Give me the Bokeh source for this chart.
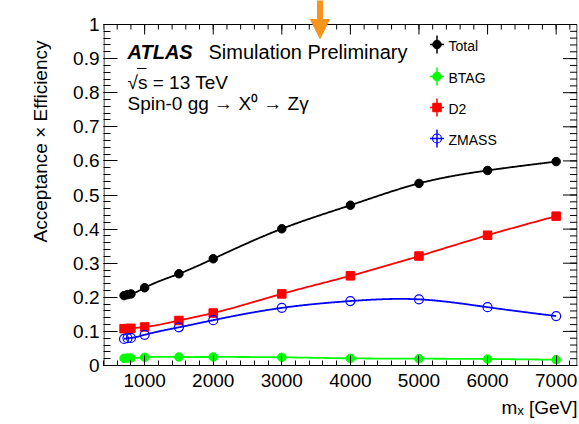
import numpy as np
from math import pi

from bokeh.plotting import figure
from bokeh.models import FixedTicker, Label, Arrow, NormalHead, Range1d, Title
from bokeh.embed import file_html
from bokeh.resources import INLINE

# Signal mass points [GeV] and acceptance x efficiency per selection stage
mass = [700, 750, 800, 1000, 1500, 2000, 3000, 4000, 5000, 6000, 7000]
eff_total = [0.205, 0.208, 0.210, 0.228, 0.269, 0.313, 0.401, 0.470, 0.534, 0.572, 0.598]
eff_btag = [0.021, 0.022, 0.022, 0.024, 0.025, 0.025, 0.024, 0.021, 0.020, 0.019, 0.017]
eff_d2 = [0.108, 0.108, 0.109, 0.113, 0.132, 0.154, 0.210, 0.263, 0.321, 0.382, 0.438]
eff_zmass = [0.078, 0.080, 0.081, 0.090, 0.112, 0.133, 0.169, 0.189, 0.194, 0.171, 0.145]

series_names = ["Total", "BTAG", "D2", "ZMASS"]
x_ticks = [1000, 2000, 3000, 4000, 5000, 6000, 7000]
x_minor = list(range(400, 7400, 200))
y_ticks = [0.0, 0.1, 0.2, 0.3, 0.4, 0.5, 0.6, 0.7, 0.8, 0.9, 1.0]
y_minor = [round(0.02 * i, 2) for i in range(51)]
y_tick_labels = ["0", "0.1", "0.2", "0.3", "0.4", "0.5", "0.6", "0.7", "0.8", "0.9", "1"]

W, H = 579, 424
LEFT, RIGHT, BOTTOM = 103, 2, 59
PLOT_TOP_PX = 24                      # pixel row of y = 1
PX_PER_Y = (H - BOTTOM) - PLOT_TOP_PX  # pixels per unit efficiency
PX_PER_X = (555.5 - 144.0) / 6000.0     # pixels per GeV
X_MIN = 400.0
X_MAX = X_MIN + (W - LEFT - RIGHT) / PX_PER_X
Y_MAX = (H - BOTTOM) / PX_PER_Y
FONT = "Liberation Sans"


def px2x(px):
    """Horizontal canvas pixel -> data x."""
    return X_MIN + (px - LEFT) / PX_PER_X


def px2y(py):
    """Vertical canvas pixel (from top) -> data y."""
    return (H - BOTTOM - py) / PX_PER_Y


def natural_spline(xs, ys, n=500):
    """Smooth curve through the points (natural cubic spline), for drawing."""
    x = np.asarray(xs, float)
    y = np.asarray(ys, float)
    h = np.diff(x)
    m = len(x)
    A = np.zeros((m, m))
    r = np.zeros(m)
    A[0, 0] = A[-1, -1] = 1.0
    for i in range(1, m - 1):
        A[i, i - 1] = h[i - 1]
        A[i, i] = 2 * (h[i - 1] + h[i])
        A[i, i + 1] = h[i]
        r[i] = 6 * ((y[i + 1] - y[i]) / h[i] - (y[i] - y[i - 1]) / h[i - 1])
    M = np.linalg.solve(A, r)
    xx = np.linspace(x[0], x[-1], n)
    k = np.clip(np.searchsorted(x, xx) - 1, 0, m - 2)
    hh = x[k + 1] - x[k]
    t0 = x[k + 1] - xx
    t1 = xx - x[k]
    yy = (M[k] * t0 ** 3 + M[k + 1] * t1 ** 3) / (6 * hh) \
        + (y[k] / hh - M[k] * hh / 6) * t0 + (y[k + 1] / hh - M[k + 1] * hh / 6) * t1
    return xx, yy


p = figure(width=W, height=H, x_range=Range1d(X_MIN, X_MAX), y_range=Range1d(0, Y_MAX),
           output_backend="svg", toolbar_location=None,
           min_border_left=LEFT, min_border_right=RIGHT,
           min_border_top=0, min_border_bottom=BOTTOM)
p.grid.visible = False
p.outline_line_color = None
p.background_fill_color = "white"
p.border_fill_color = "white"


def style_axis(ax, major_in, minor_in):
    ax.axis_line_color = "black"
    ax.major_tick_line_color = "black"
    ax.minor_tick_line_color = "black"
    ax.major_tick_out = 0
    ax.minor_tick_out = 0
    ax.major_tick_in = major_in
    ax.minor_tick_in = minor_in
    ax.major_label_text_font = FONT
    ax.major_label_text_font_size = "19px"
    ax.major_label_text_color = "black"


xa = p.xaxis[0]
xa.ticker = FixedTicker(ticks=x_ticks, minor_ticks=x_minor)
style_axis(xa, 10, 5)
xa.major_label_standoff = 8

ya = p.yaxis[0]
ya.ticker = FixedTicker(ticks=y_ticks, minor_ticks=y_minor)
style_axis(ya, 14, 7)
ya.axis_line_color = None
ya.major_label_standoff = 4
ya.major_label_overrides = {t: s for t, s in zip(y_ticks, y_tick_labels)}

# Frame box (left, top, right edges) with the top/right tick marks
x_left, x_right = px2x(LEFT + 0.5), px2x(W - RIGHT - 0.5)
p.segment(x0=[x_left, x_left, x_right], y0=[0, 1, 1],
          x1=[x_left, x_right, x_right], y1=[1, 1, 0], line_color="black", line_width=1)
p.ray(x=x_ticks, y=[1] * len(x_ticks), length=10, angle=-pi / 2, length_units="screen",
      line_color="black", line_width=1)
p.ray(x=x_minor, y=[1] * len(x_minor), length=5, angle=-pi / 2, length_units="screen",
      line_color="black", line_width=1)
p.ray(x=[x_right] * len(y_ticks), y=y_ticks, length=14, angle=pi, length_units="screen",
      line_color="black", line_width=1)
p.ray(x=[x_right] * len(y_minor), y=y_minor, length=7, angle=pi, length_units="screen",
      line_color="black", line_width=1)

# Curves and markers
styles = [
    (eff_total, "black", "circle", True),
    (eff_btag, "#00ff00", "circle", True),
    (eff_d2, "#ff0000", "square", True),
    (eff_zmass, "#0000ff", "circle", False),
]
for vals, col, marker, filled in styles:
    cx, cy = natural_spline(mass, vals)
    p.line(cx, cy, line_color=col, line_width=1.8)
    if filled:
        p.scatter(mass, vals, marker=marker, size=8.5, fill_color=col, line_color=col)
    else:
        p.scatter(mass, vals, marker=marker, size=9, fill_alpha=0,
                  line_color=col, line_width=1.2)

# Legend (marker with error cross)
leg_x = 436.5
leg_rows = [44, 76, 107, 138]
for (vals, col, marker, filled), name, ry in zip(styles, series_names, leg_rows):
    p.segment(x0=[px2x(leg_x - 7)], y0=[px2y(ry)], x1=[px2x(leg_x + 7)], y1=[px2y(ry)],
              line_color=col, line_width=1.5)
    p.segment(x0=[px2x(leg_x)], y0=[px2y(ry - 9)], x1=[px2x(leg_x)], y1=[px2y(ry + 9)],
              line_color=col, line_width=1.5)
    if filled:
        p.scatter([px2x(leg_x)], [px2y(ry)], marker=marker, size=8.5,
                  fill_color=col, line_color=col)
    else:
        p.scatter([px2x(leg_x)], [px2y(ry)], marker=marker, size=9, fill_alpha=0,
                  line_color=col, line_width=1.2)
    p.add_layout(Label(x=px2x(448), y=px2y(ry + 1), text=name, text_font=FONT,
                       text_font_size="14px", text_baseline="middle", text_color="black"))


def add_text(px, py, text, size="20px", style="normal"):
    p.add_layout(Label(x=px2x(px), y=px2y(py), text=text, text_font=FONT,
                       text_font_size=size, text_font_style=style,
                       text_baseline="alphabetic", text_color="black"))


add_text(127, 51, "ATLAS", style="bold italic")
add_text(208, 51, "Simulation Preliminary")
add_text(127, 82, "\u221As = 13 TeV", size="19px")
add_text(127, 103, "Spin-0 gg \u2192 X\u2070 \u2192 Z\u03b3", size="19px")
# bar of the square root over "s"
p.segment(x0=[px2x(136.5)], y0=[px2y(68)], x1=[px2x(146)], y1=[px2y(68)],
          line_color="black", line_width=1.2)

# Axis titles, aligned to the far end of each axis
p.add_layout(Title(text="Acceptance \u00d7 Efficiency", align="right", offset=40,
                   text_font=FONT, text_font_size="19px", text_font_style="normal",
                   text_color="black", standoff=39), "left")
p.add_layout(Title(text="m\u2093 [GeV]", align="right", text_font=FONT,
                   text_font_size="19px", text_font_style="normal",
                   text_color="black", standoff=11), "below")

# Marker arrow at the top
arrow_x = px2x(319.5)
p.add_layout(Arrow(end=NormalHead(size=19, fill_color="#f7941d", line_color="#f7941d"),
                   x_start=arrow_x, y_start=px2y(-2), x_end=arrow_x, y_end=px2y(38),
                   line_color="#f7941d", line_width=6))

open("out.html", "w").write(file_html(p, INLINE))
